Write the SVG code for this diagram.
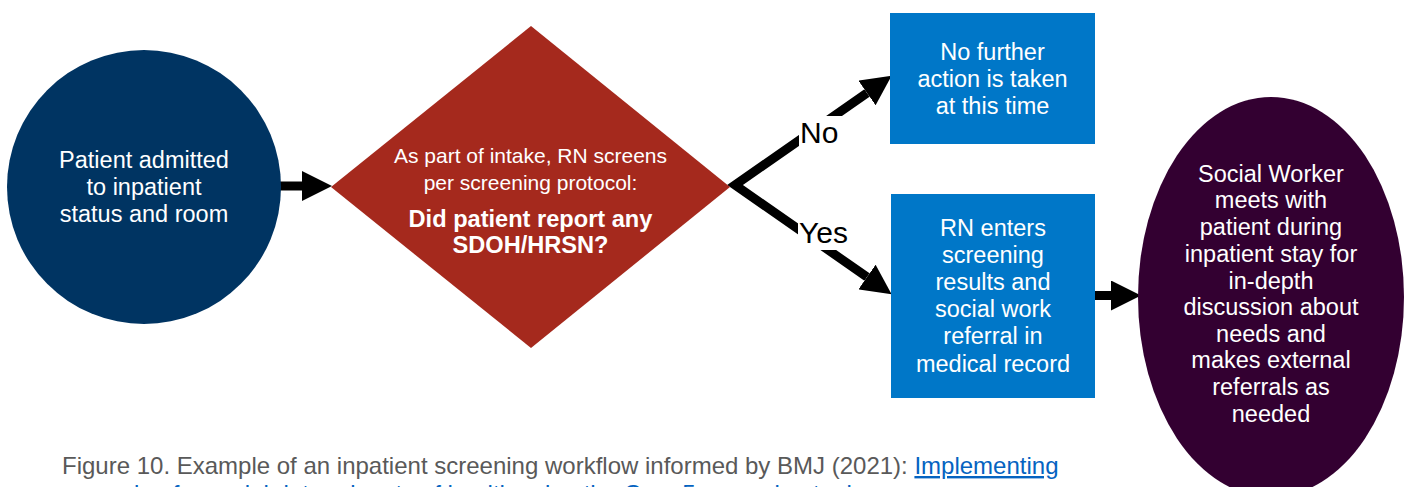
<svg xmlns="http://www.w3.org/2000/svg" width="1409" height="487" viewBox="0 0 1409 487">
  <style>
    .lbl { font-family: "Liberation Sans", Arial, sans-serif; font-size: 23.5px; fill: #ffffff; text-anchor: middle; }
    .small { font-size: 21px; }
    .bold { font-weight: bold; font-size: 23.6px; }
    .branch { font-family: "Liberation Sans", Arial, sans-serif; font-size: 30px; fill: #000000; }
    .wire { fill: none; stroke: #000000; stroke-width: 9; stroke-linejoin: miter; }
    .caption { font-family: "Liberation Sans", Arial, sans-serif; font-size: 24px; fill: #595959; }
    .link { fill: #0563c1; text-decoration: underline; }
  </style>
  <defs>
    <marker id="head" markerUnits="userSpaceOnUse" markerWidth="30" markerHeight="30" refX="0" refY="14" orient="auto-start-reverse" viewBox="0 0 28 28">
      <path d="M0,0 L28,14 L0,28 Z" fill="#000000"/>
    </marker>
  </defs>

  <rect width="1409" height="487" fill="#ffffff"/>

  <!-- connectors -->
  <g id="connectors">
    <line class="wire" x1="278" y1="186" x2="302" y2="186" marker-end="url(#head)"/>
    <path class="wire" d="M867,93 L735,185 L867,277" marker-start="url(#head)" marker-end="url(#head)"/>
    <line class="wire" x1="1094" y1="295.5" x2="1111" y2="295.5" marker-end="url(#head)"/>
    <!-- branch labels sit on white patches over the lines -->
    <rect x="799" y="116" width="43" height="34" fill="#ffffff"/>
    <text class="branch" x="800" y="143">No</text>
    <rect x="798" y="216" width="56" height="34" fill="#ffffff"/>
    <text class="branch" x="799" y="243">Yes</text>
  </g>

  <!-- start: admission -->
  <g id="admitted">
    <circle cx="144" cy="187" r="137" fill="#003462"/>
    <text class="lbl" x="144" y="168">Patient admitted</text>
    <text class="lbl" x="144" y="195">to inpatient</text>
    <text class="lbl" x="144" y="222">status and room</text>
  </g>

  <!-- decision -->
  <g id="screening-decision">
    <polygon points="531,26 730,187 531,348 331,187" fill="#a5291d"/>
    <text class="lbl small" x="530.5" y="163">As part of intake, RN screens</text>
    <text class="lbl small" x="530.5" y="190">per screening protocol:</text>
    <text class="lbl bold" x="530.5" y="227">Did patient report any</text>
    <text class="lbl bold" x="530.5" y="253">SDOH/HRSN?</text>
  </g>

  <!-- no branch -->
  <g id="no-action">
    <rect x="890" y="13" width="205" height="131" fill="#0077c8"/>
    <text class="lbl" x="992.5" y="60">No further</text>
    <text class="lbl" x="992.5" y="87">action is taken</text>
    <text class="lbl" x="992.5" y="114">at this time</text>
  </g>

  <!-- yes branch -->
  <g id="rn-entry">
    <rect x="891" y="194" width="204" height="204" fill="#0077c8"/>
    <text class="lbl" x="993" y="236">RN enters</text>
    <text class="lbl" x="993" y="263">screening</text>
    <text class="lbl" x="993" y="290">results and</text>
    <text class="lbl" x="993" y="317">social work</text>
    <text class="lbl" x="993" y="344">referral in</text>
    <text class="lbl" x="993" y="372">medical record</text>
  </g>

  <!-- social worker follow-up -->
  <g id="social-worker">
    <ellipse cx="1271" cy="297" rx="133" ry="200" fill="#330031"/>
    <text class="lbl" x="1271" y="182">Social Worker</text>
    <text class="lbl" x="1271" y="208">meets with</text>
    <text class="lbl" x="1271" y="235">patient during</text>
    <text class="lbl" x="1271" y="262">inpatient stay for</text>
    <text class="lbl" x="1271" y="289">in-depth</text>
    <text class="lbl" x="1271" y="315">discussion about</text>
    <text class="lbl" x="1271" y="342">needs and</text>
    <text class="lbl" x="1271" y="368">makes external</text>
    <text class="lbl" x="1271" y="395">referrals as</text>
    <text class="lbl" x="1271" y="422">needed</text>
  </g>

  <!-- caption -->
  <text class="caption" x="62" y="474">Figure 10. Example of an inpatient screening workflow informed by BMJ (2021): <tspan class="link">Implementing</tspan></text>
  <text class="caption link" x="62" y="502">screening for social determinants of health using the Core 5 screening tool</text>
</svg>
